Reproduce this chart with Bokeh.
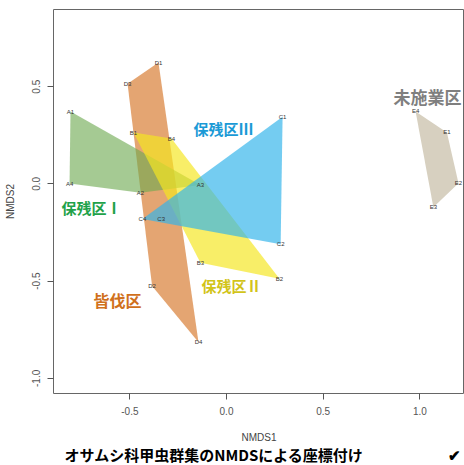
from bokeh.plotting import figure
from bokeh.models import FixedTicker, Label, Range1d, NumeralTickFormatter, ColumnDataSource, Title
from bokeh.embed import file_html
from bokeh.resources import INLINE
from bokeh.core.properties import value

# NMDS site scores
A_sites = ["A1", "A2", "A3", "A4"]
A_x = [-0.807, -0.445, -0.135, -0.812]
A_y = [0.372, -0.045, -0.005, 0.002]

B_sites = ["B1", "B2", "B3", "B4"]
B_x = [-0.481, 0.274, -0.135, -0.285]
B_y = [0.264, -0.488, -0.405, 0.233]

C_sites = ["C1", "C2", "C3", "C4"]
C_x = [0.290, 0.280, -0.338, -0.435]
C_y = [0.345, -0.310, -0.180, -0.180]

D_sites = ["D1", "D2", "D3", "D4"]
D_x = [-0.352, -0.385, -0.512, -0.145]
D_y = [0.624, -0.525, 0.515, -0.815]

E_sites = ["E1", "E2", "E3", "E4"]
E_x = [1.140, 1.200, 1.070, 0.978]
E_y = [0.265, 0.003, -0.120, 0.373]

group_names = ["保残区Ⅰ", "保残区Ⅱ", "保残区Ⅲ", "皆伐区", "未施業区"]
group_label_x = [-0.698, 0.026, -0.016, -0.564, 1.040]
group_label_y = [-0.122, -0.523, 0.284, -0.595, 0.449]

x_ticks = [-0.5, 0.0, 0.5, 1.0]
y_ticks = [-1.0, -0.5, 0.0, 0.5]

title_text = "オサムシ科甲虫群集のNMDSによる座標付け"
check_mark = "✔"


def hull(xs, ys):
    pts = sorted(zip(xs, ys))
    def cross(o, a, b):
        return (a[0] - o[0]) * (b[1] - o[1]) - (a[1] - o[1]) * (b[0] - o[0])
    lower, upper = [], []
    for p_ in pts:
        while len(lower) >= 2 and cross(lower[-2], lower[-1], p_) <= 0:
            lower.pop()
        lower.append(p_)
    for p_ in reversed(pts):
        while len(upper) >= 2 and cross(upper[-2], upper[-1], p_) <= 0:
            upper.pop()
        upper.append(p_)
    h = lower[:-1] + upper[:-1]
    return [q[0] for q in h], [q[1] for q in h]


p = figure(frame_width=411, frame_height=384, output_backend="svg", toolbar_location=None,
           x_range=Range1d(-0.895, 1.231), y_range=Range1d(-1.078, 0.897),
           min_border_left=53, min_border_right=0, min_border_top=9, min_border_bottom=72)
p.xgrid.visible = False
p.ygrid.visible = False
p.outline_line_color = "#666666"
p.outline_line_width = 1
p.background_fill_color = "white"
p.border_fill_color = "white"

FONT = "Liberation Sans"
for ax in (p.xaxis[0], p.yaxis[0]):
    ax.axis_line_color = None
    ax.major_tick_line_color = "#555555"
    ax.major_tick_out = 6
    ax.major_tick_in = 0
    ax.minor_tick_line_color = None
    ax.major_label_text_color = "#555555"
    ax.major_label_text_font = FONT
    ax.major_label_text_font_size = "10px"
    ax.axis_label_text_color = "#444444"
    ax.axis_label_text_font = FONT
    ax.axis_label_text_font_size = "10px"
    ax.axis_label_text_font_style = "normal"
    ax.formatter = NumeralTickFormatter(format="0.0")

p.xaxis.ticker = FixedTicker(ticks=x_ticks)
p.yaxis.ticker = FixedTicker(ticks=y_ticks)
p.xaxis.axis_label = "NMDS1"
p.yaxis.axis_label = "NMDS2"
p.xaxis.major_label_standoff = 7
p.xaxis.axis_label_standoff = 14
p.yaxis.major_label_orientation = "vertical"
p.yaxis.major_label_standoff = 7
p.yaxis.axis_label_standoff = 14

groups = [
    (D_x, D_y, "#d9823b", 0.72),
    (A_x, A_y, "#6eaa50", 0.62),
    (B_x, B_y, "#f5e620", 0.68),
    (C_x, C_y, "#32b4eb", 0.68),
    (E_x, E_y, "#d7d0c0", 1.0),
]
for gx, gy, col, al in groups:
    hx, hy = hull(gx, gy)
    p.patch(hx, hy, fill_color=col, fill_alpha=al, line_color=None)

all_sites = A_sites + B_sites + C_sites + D_sites + E_sites
all_x = A_x + B_x + C_x + D_x + E_x
all_y = A_y + B_y + C_y + D_y + E_y
src = ColumnDataSource(dict(x=all_x, y=all_y, t=all_sites))
p.text(x="x", y="y", text="t", source=src, text_font=value(FONT), text_font_size="6px",
       text_color="#333333", text_align="center", text_baseline="middle")

group_colors = ["#1fa24a", "#d2c41a", "#1a9ad6", "#d0701c", "#7f7f7f"]
group_sizes = ["15px", "15px", "15px", "16px", "17px"]
for name, gx, gy, c, s in zip(group_names, group_label_x, group_label_y, group_colors, group_sizes):
    p.add_layout(Label(x=gx, y=gy, text=name, text_color=c, text_font="Noto Sans CJK JP",
                       text_font_size=s, text_font_style="bold", text_align="center",
                       text_baseline="middle"))

p.add_layout(Title(text=title_text + "\u3000" * 5 + "\u00a0\u00a0\u00a0" + check_mark, align="left", offset=11,
                   standoff=-8, text_color="black", text_font="Noto Sans CJK JP",
                   text_font_size="15px", text_font_style="bold"), "below")

open("out.html", "w").write(file_html(p, INLINE))
